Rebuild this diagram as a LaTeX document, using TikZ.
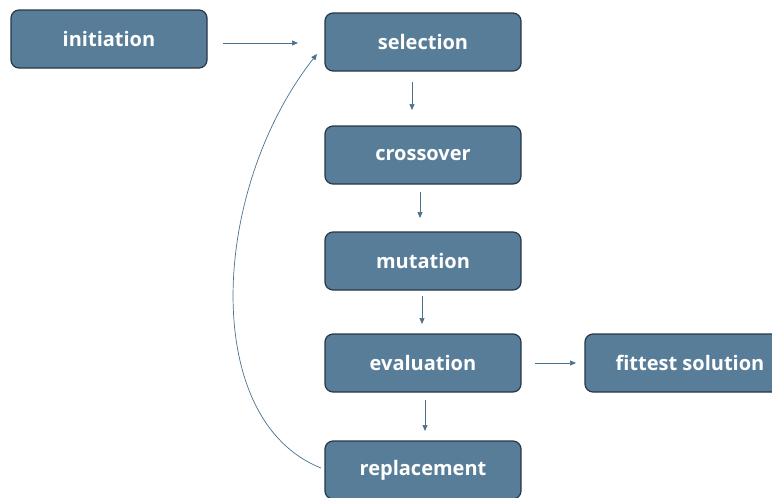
\documentclass[tikz,border=0pt]{standalone}
\usepackage{fontspec}
\setmainfont{Open Sans}
\usetikzlibrary{arrows.meta}
\definecolor{boxfill}{RGB}{88,125,152}
\definecolor{boxline}{RGB}{40,55,70}
\definecolor{arrowc}{RGB}{74,112,140}
\tikzset{
  stage/.style={draw=boxline, line width=1.2pt, fill=boxfill, rounded corners=8pt,
    minimum width=196pt, minimum height=58pt, inner sep=0pt,
    text=white, font=\fontsize{20}{24}\selectfont\bfseries},
  conn/.style={draw=arrowc, line width=0.7pt, -{Triangle[length=6pt,width=5pt]}}
}
\begin{document}
\begin{tikzpicture}[x=1pt,y=-1pt]
\useasboundingbox (0,0) rectangle (772,498);
\node[stage] (init) at (109,39) {initiation};
\node[stage] (sel) at (423,42) {selection};
\node[stage] (cross) at (423,155) {crossover};
\node[stage] (mut) at (423,261) {mutation};
\node[stage] (eval) at (423,363) {evaluation};
\node[stage, minimum width=210pt] (fit) at (690,363) {fittest solution};
\node[stage] (rep) at (423,470) {replacement};
\coordinate (a1s) at (223,43); \coordinate (a1e) at (298,43);
\draw[conn] (a1s) -- (a1e);
\coordinate (a2s) at (412,82); \coordinate (a2e) at (412,110);
\draw[conn] (a2s) -- (a2e);
\coordinate (a3s) at (420,192); \coordinate (a3e) at (420,218);
\draw[conn] (a3s) -- (a3e);
\coordinate (a4s) at (422,296); \coordinate (a4e) at (422,324);
\draw[conn] (a4s) -- (a4e);
\coordinate (a5s) at (535,363); \coordinate (a5e) at (576,363);
\draw[conn] (a5s) -- (a5e);
\coordinate (a6s) at (425,400); \coordinate (a6e) at (425,431);
\draw[conn] (a6s) -- (a6e);
\coordinate (c1) at (321,468); \coordinate (c2) at (317,54);
\draw[conn] (c1) .. controls (200,420) and (210,190) .. (c2);
\end{tikzpicture}
\end{document}
